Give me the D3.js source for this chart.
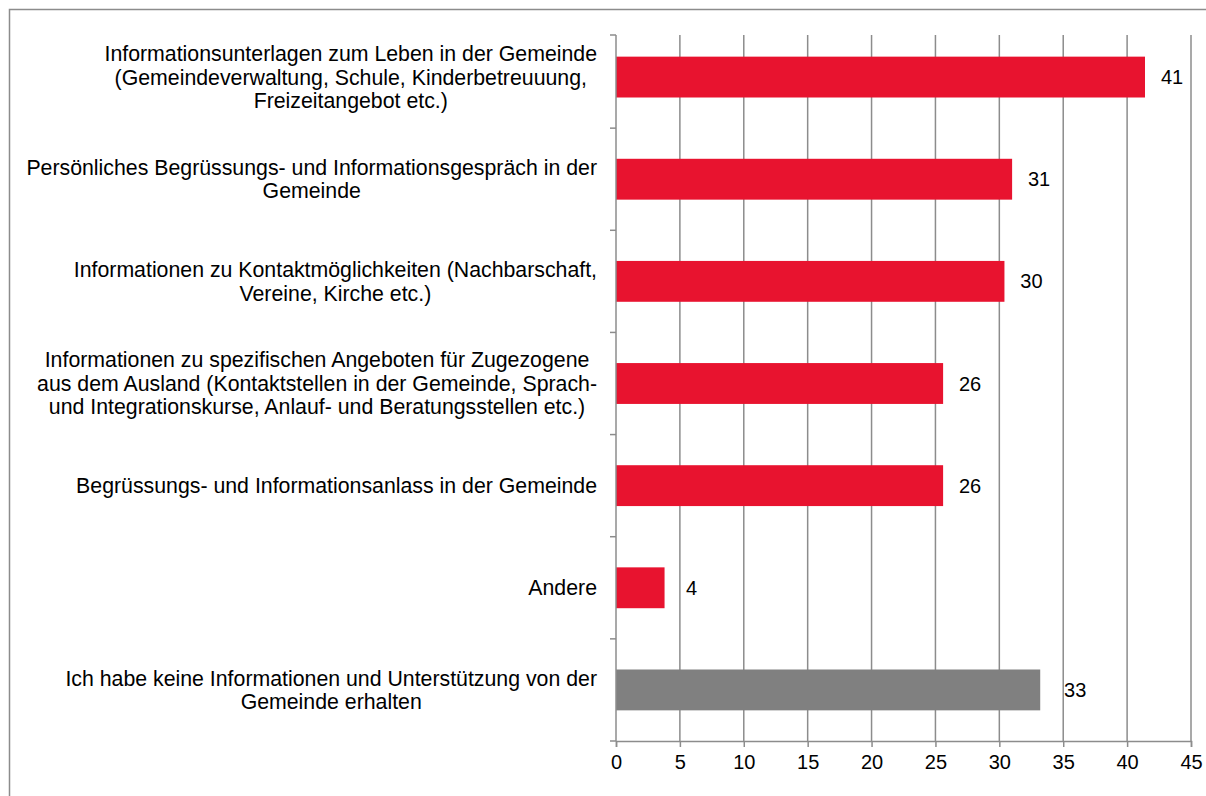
<!DOCTYPE html>
<html>
<head>
<meta charset="utf-8">
<script src="https://cdn.jsdelivr.net/npm/d3@7"></script>
<style>
  body { margin: 0; background: #fff; }
  text { font-family: "Liberation Sans", Arial, sans-serif; fill: #000; }
</style>
</head>
<body>
<div id="chart-holder"></div>
<script>
// Kategorien (Zeilenumbrüche wie im Original)
var categories = [
  "Informationsunterlagen zum Leben in der Gemeinde\n(Gemeindeverwaltung, Schule, Kinderbetreuuung,\nFreizeitangebot etc.)",
  "Persönliches Begrüssungs- und Informationsgespräch in der\nGemeinde",
  "Informationen zu Kontaktmöglichkeiten (Nachbarschaft,\nVereine, Kirche etc.)",
  "Informationen zu spezifischen Angeboten für Zugezogene\naus dem Ausland (Kontaktstellen in der Gemeinde, Sprach-\nund Integrationskurse, Anlauf- und Beratungsstellen etc.)",
  "Begrüssungs- und Informationsanlass in der Gemeinde",
  "Andere",
  "Ich habe keine Informationen und Unterstützung von der\nGemeinde erhalten"
];
var values = [41.4, 31.0, 30.4, 25.6, 25.6, 3.8, 33.2];
var groups = ["angebot", "angebot", "angebot", "angebot", "angebot", "angebot", "keine"];
var xTicks = [0, 5, 10, 15, 20, 25, 30, 35, 40, 45];

var width = 1206, height = 796;
var svg = d3.select("#chart-holder")
  .append("svg")
  .attr("width", width)
  .attr("height", height);

// Rahmen (rechts und unten ausserhalb des Bildes)
svg.append("rect")
  .attr("x", 9.5).attr("y", 9.5)
  .attr("width", width + 20).attr("height", height + 20)
  .attr("fill", "none")
  .attr("stroke", "#8c8c8c")
  .attr("stroke-width", 1.5);

var plotTop = 35, plotBottom = 741;

var x = d3.scaleLinear().domain([0, 45]).range([616, 1191]);
var y = d3.scaleBand()
  .domain(d3.range(categories.length))
  .range([26, plotBottom])
  .paddingInner(0.6)
  .paddingOuter(0.3);

var color = d3.scaleOrdinal().domain(["angebot", "keine"]).range(["#e8132f", "#808080"]);
var labelOffset = { angebot: 27, keine: 35 };

// vertikale Gitterlinien
svg.append("g").selectAll("line")
  .data(xTicks.slice(1))
  .enter().append("line")
  .attr("x1", function(d) { return x(d); })
  .attr("x2", function(d) { return x(d); })
  .attr("y1", plotTop).attr("y2", plotBottom)
  .attr("stroke", "#8c8c8c")
  .attr("stroke-width", 1.5);

// Balken
svg.append("g").selectAll("rect")
  .data(values)
  .enter().append("rect")
  .attr("x", x(0))
  .attr("y", function(d, i) { return y(i); })
  .attr("width", function(d) { return x(d) - x(0); })
  .attr("height", y.bandwidth())
  .attr("fill", function(d, i) { return color(groups[i]); });

// Werte
svg.append("g").selectAll("text")
  .data(values)
  .enter().append("text")
  .attr("x", function(d, i) { return x(d) + labelOffset[groups[i]]; })
  .attr("y", function(d, i) { return y(i) + y.bandwidth() / 2; })
  .attr("dy", "0.35em")
  .attr("text-anchor", "middle")
  .style("font-size", "20px")
  .text(function(d) { return d3.format(".0f")(d); });

// x-Achse
var xAxis = d3.axisBottom(x).tickValues(xTicks).tickSize(6).tickPadding(8);
var gx = svg.append("g")
  .attr("transform", "translate(0," + plotBottom + ")")
  .call(xAxis);
gx.select(".domain").attr("stroke", "#8c8c8c").attr("stroke-width", 1.5);
gx.selectAll(".tick line").attr("stroke", "#8c8c8c").attr("stroke-width", 1.5);
gx.selectAll(".tick text")
  .style("font-size", "20px")
  .attr("font-family", null)
  .attr("fill", "#000");

// y-Achse mit Teilstrichen zwischen den Kategorien
var yBounds = [plotTop].concat(d3.range(1, categories.length + 1).map(function(k) {
  return y.range()[0] + k * y.step();
}));
svg.append("line")
  .attr("x1", x(0)).attr("x2", x(0))
  .attr("y1", plotTop).attr("y2", plotBottom)
  .attr("stroke", "#8c8c8c")
  .attr("stroke-width", 1.5);
svg.append("g").selectAll("line")
  .data(yBounds)
  .enter().append("line")
  .attr("x1", x(0) - 6).attr("x2", x(0))
  .attr("y1", function(d) { return d; })
  .attr("y2", function(d) { return d; })
  .attr("stroke", "#8c8c8c")
  .attr("stroke-width", 1.5);

// Kategorienbeschriftung: zentrierte Zeilen, Block rechtsbündig
var labelRight = 597, lineHeight = 23.5;
var labels = svg.append("g").selectAll("text")
  .data(categories)
  .enter().append("text")
  .attr("text-anchor", "middle")
  .style("font-size", "21.3px");

labels.each(function(d, i) {
  var t = d3.select(this);
  var lines = d.split("\n");
  var cy = y(i) + y.bandwidth() / 2;
  lines.forEach(function(line, j) {
    t.append("tspan")
      .attr("y", cy + (j - (lines.length - 1) / 2) * lineHeight)
      .attr("dy", "0.35em")
      .text(line);
  });
  var maxW = 0;
  t.selectAll("tspan").each(function() {
    maxW = Math.max(maxW, this.getComputedTextLength());
  });
  t.selectAll("tspan").attr("x", labelRight - maxW / 2);
});
</script>
</body>
</html>
